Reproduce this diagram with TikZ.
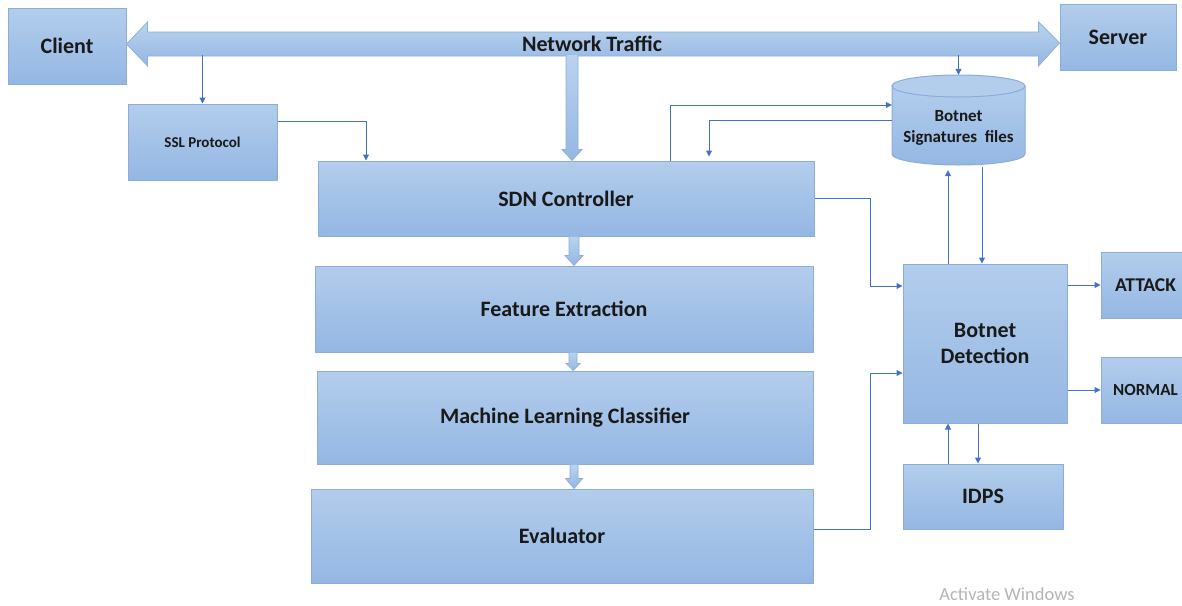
\documentclass[tikz,border=0pt]{standalone}
\usepackage{fontspec}
\setmainfont{Carlito}
\usetikzlibrary{arrows.meta,calc}

\definecolor{boxtop}{HTML}{B3CDEC}
\definecolor{boxbot}{HTML}{94B7E3}
\definecolor{boxline}{HTML}{8AADDB}
\definecolor{wire}{HTML}{4472C4}
\definecolor{wmgray}{HTML}{B4B4B4}

\tikzset{
  box/.style={draw=boxline, line width=1pt, top color=boxtop, bottom color=boxbot,
    inner sep=0pt, align=center, text=black!90,
    font=\bfseries\fontsize{22}{26}\selectfont},
  conn/.style={draw=wire, line width=1pt, -{Triangle[width=6pt,length=6pt]}},
  wireline/.style={draw=wire, line width=1pt},
  fatfill/.style={top color=boxtop!90!white, bottom color=boxbot},
  fatedge/.style={draw=boxline, line width=0.7pt},
  bigfont/.style={font=\bfseries\fontsize{22}{26}\selectfont}
}

% vertical block arrow: x, from-anchor, to-anchor, half shaft, half head, head length
\newcommand\fatdown[6]{%
  \path[fatfill] let \p1=(#2), \p2=(#3) in
    ({#1pt-#4pt},\y1) -- ({#1pt-#4pt},\y2+#6pt) -- ({#1pt-#5pt},\y2+#6pt) -- (#1pt,\y2)
    -- ({#1pt+#5pt},\y2+#6pt) -- ({#1pt+#4pt},\y2+#6pt) -- ({#1pt+#4pt},\y1) -- cycle;
  \path[fatedge] let \p1=(#2), \p2=(#3) in
    ({#1pt-#4pt},\y1) -- ({#1pt-#4pt},\y2+#6pt) -- ({#1pt-#5pt},\y2+#6pt) -- (#1pt,\y2)
    -- ({#1pt+#5pt},\y2+#6pt) -- ({#1pt+#4pt},\y2+#6pt) -- ({#1pt+#4pt},\y1);
}

\begin{document}
\begin{tikzpicture}[x=1pt,y=-1pt]
\useasboundingbox (0,0) rectangle (1182,605);

% end points and processing blocks
\node[box, minimum width=118pt, minimum height=76pt] (client) at (67,46) {Client};
\node[box, minimum width=116pt, minimum height=66pt] (server) at (1118,37) {Server};
\node[box, minimum width=149pt, minimum height=76pt,
      font=\bfseries\fontsize{15}{17}\selectfont] (ssl) at (202.5,142) {SSL Protocol};
\node[box, minimum width=496pt, minimum height=75pt] (sdn) at (566,198.5) {SDN Controller};
\node[box, minimum width=498pt, minimum height=86pt] (fe) at (564,309) {Feature Extraction};
\node[box, minimum width=496pt, minimum height=93pt] (ml) at (565,417.5) {Machine Learning Classifier};
\node[box, minimum width=502pt, minimum height=94pt] (ev) at (562,536) {Evaluator};
\node[box, minimum width=164pt, minimum height=159pt] (bd) at (985,343.5) {Botnet\\Detection};
\node[box, minimum width=89pt, minimum height=66pt,
      font=\bfseries\fontsize{19.5}{22}\selectfont] (attack) at (1145.5,285) {ATTACK};
\node[box, minimum width=89pt, minimum height=66pt,
      font=\bfseries\fontsize{17}{20}\selectfont] (normal) at (1145.5,390) {NORMAL};
\node[box, minimum width=160pt, minimum height=65pt] (idps) at (983,496.5) {IDPS};

% signature database (cylinder)
\path[top color=boxtop, bottom color=boxbot, draw=boxline, line width=1pt]
  (892,86) -- (892,154) arc[start angle=180, end angle=0, x radius=66.5, y radius=11]
  -- (1025,86) -- cycle;
\draw[boxline, line width=1pt, fill=boxtop] (958.5,86) ellipse[x radius=66.5, y radius=11];
\node[minimum width=133pt, minimum height=90pt, inner sep=0pt] (sig) at (958.5,120) {};
\node[align=center, inner sep=0pt, text=black!90,
      font=\bfseries\fontsize{17}{21}\selectfont] (sigtext) at (958.5,128)
      {Botnet\\Signatures\ \ files};

% network traffic double arrow between client and server
\coordinate (tl) at ([yshift=2pt]client.east);
\coordinate (tr) at ([yshift=-6pt]server.west);
\path[fatfill, fatedge]
  (tl) -- ($(tl)+(21,-22)$) -- ($(tl)+(21,-12)$) -- ($(tr)+(-21,-11)$)
  -- ($(tr)+(-21,-21)$) -- (tr) -- ($(tr)+(-21,23)$) -- ($(tr)+(-21,13)$)
  -- ($(tl)+(21,12)$) -- ($(tl)+(21,22)$) -- cycle;
\node[bigfont, text=black!90, minimum height=22pt, inner sep=0pt] (traffic) at (592,44) {Network Traffic};

% block arrows down the processing chain
\fatdown{572}{traffic.south}{sdn.north}{6}{10}{11}
\fatdown{574}{sdn.south}{fe.north}{5}{9}{10}
\fatdown{573}{fe.south}{ml.north}{4}{7}{7}
\fatdown{574}{ml.south}{ev.north}{4}{8.5}{10}

% thin connectors
\draw[conn] (traffic.south -| ssl.north) -- (ssl.north);
\draw[conn] ([yshift=21pt]ssl.east) -| ([xshift=-200pt]sdn.north);
\draw[conn] (traffic.south -| sig.north) -- (sig.north);

\draw[conn] ([xshift=104pt]sdn.north) |- ([yshift=15pt]sig.west);
\draw[conn] (sig.west) -| ([xshift=143pt,yshift=4pt]sdn.north);

\coordinate (bdup) at ([xshift=-37pt]bd.north);
\coordinate (bddown) at ([xshift=-3pt]bd.north);
\draw[conn] (bdup) -- ([yshift=-5pt]bdup |- sig.south);
\draw[conn] ([yshift=-2pt]bddown |- sig.south) -- (bddown);

\draw[conn] (sdn.east) -| ([xshift=-32pt,yshift=57.5pt]bd.west) -- ([yshift=57.5pt]bd.west);
\draw[conn] ([yshift=7pt]ev.east) -| ([xshift=-32pt,yshift=-29.5pt]bd.west) -- ([yshift=-29.5pt]bd.west);

\draw[conn] (bd.east |- attack.west) -- (attack.west);
\draw[conn] (bd.east |- normal.west) -- (normal.west);

\coordinate (idpsup) at ([xshift=-35pt]idps.north);
\coordinate (idpsdown) at ([xshift=-7pt]bd.south);
\draw[conn] (idpsup) -- (idpsup |- bd.south);
\draw[conn] (idpsdown) -- (idpsdown |- idps.north);

% system watermark along the bottom edge
\node[anchor=base, inner sep=0pt, text=wmgray, font=\fontsize{18.5}{20}\selectfont] (wm)
  at (1007,600) {Activate Windows};
\end{tikzpicture}
\end{document}
